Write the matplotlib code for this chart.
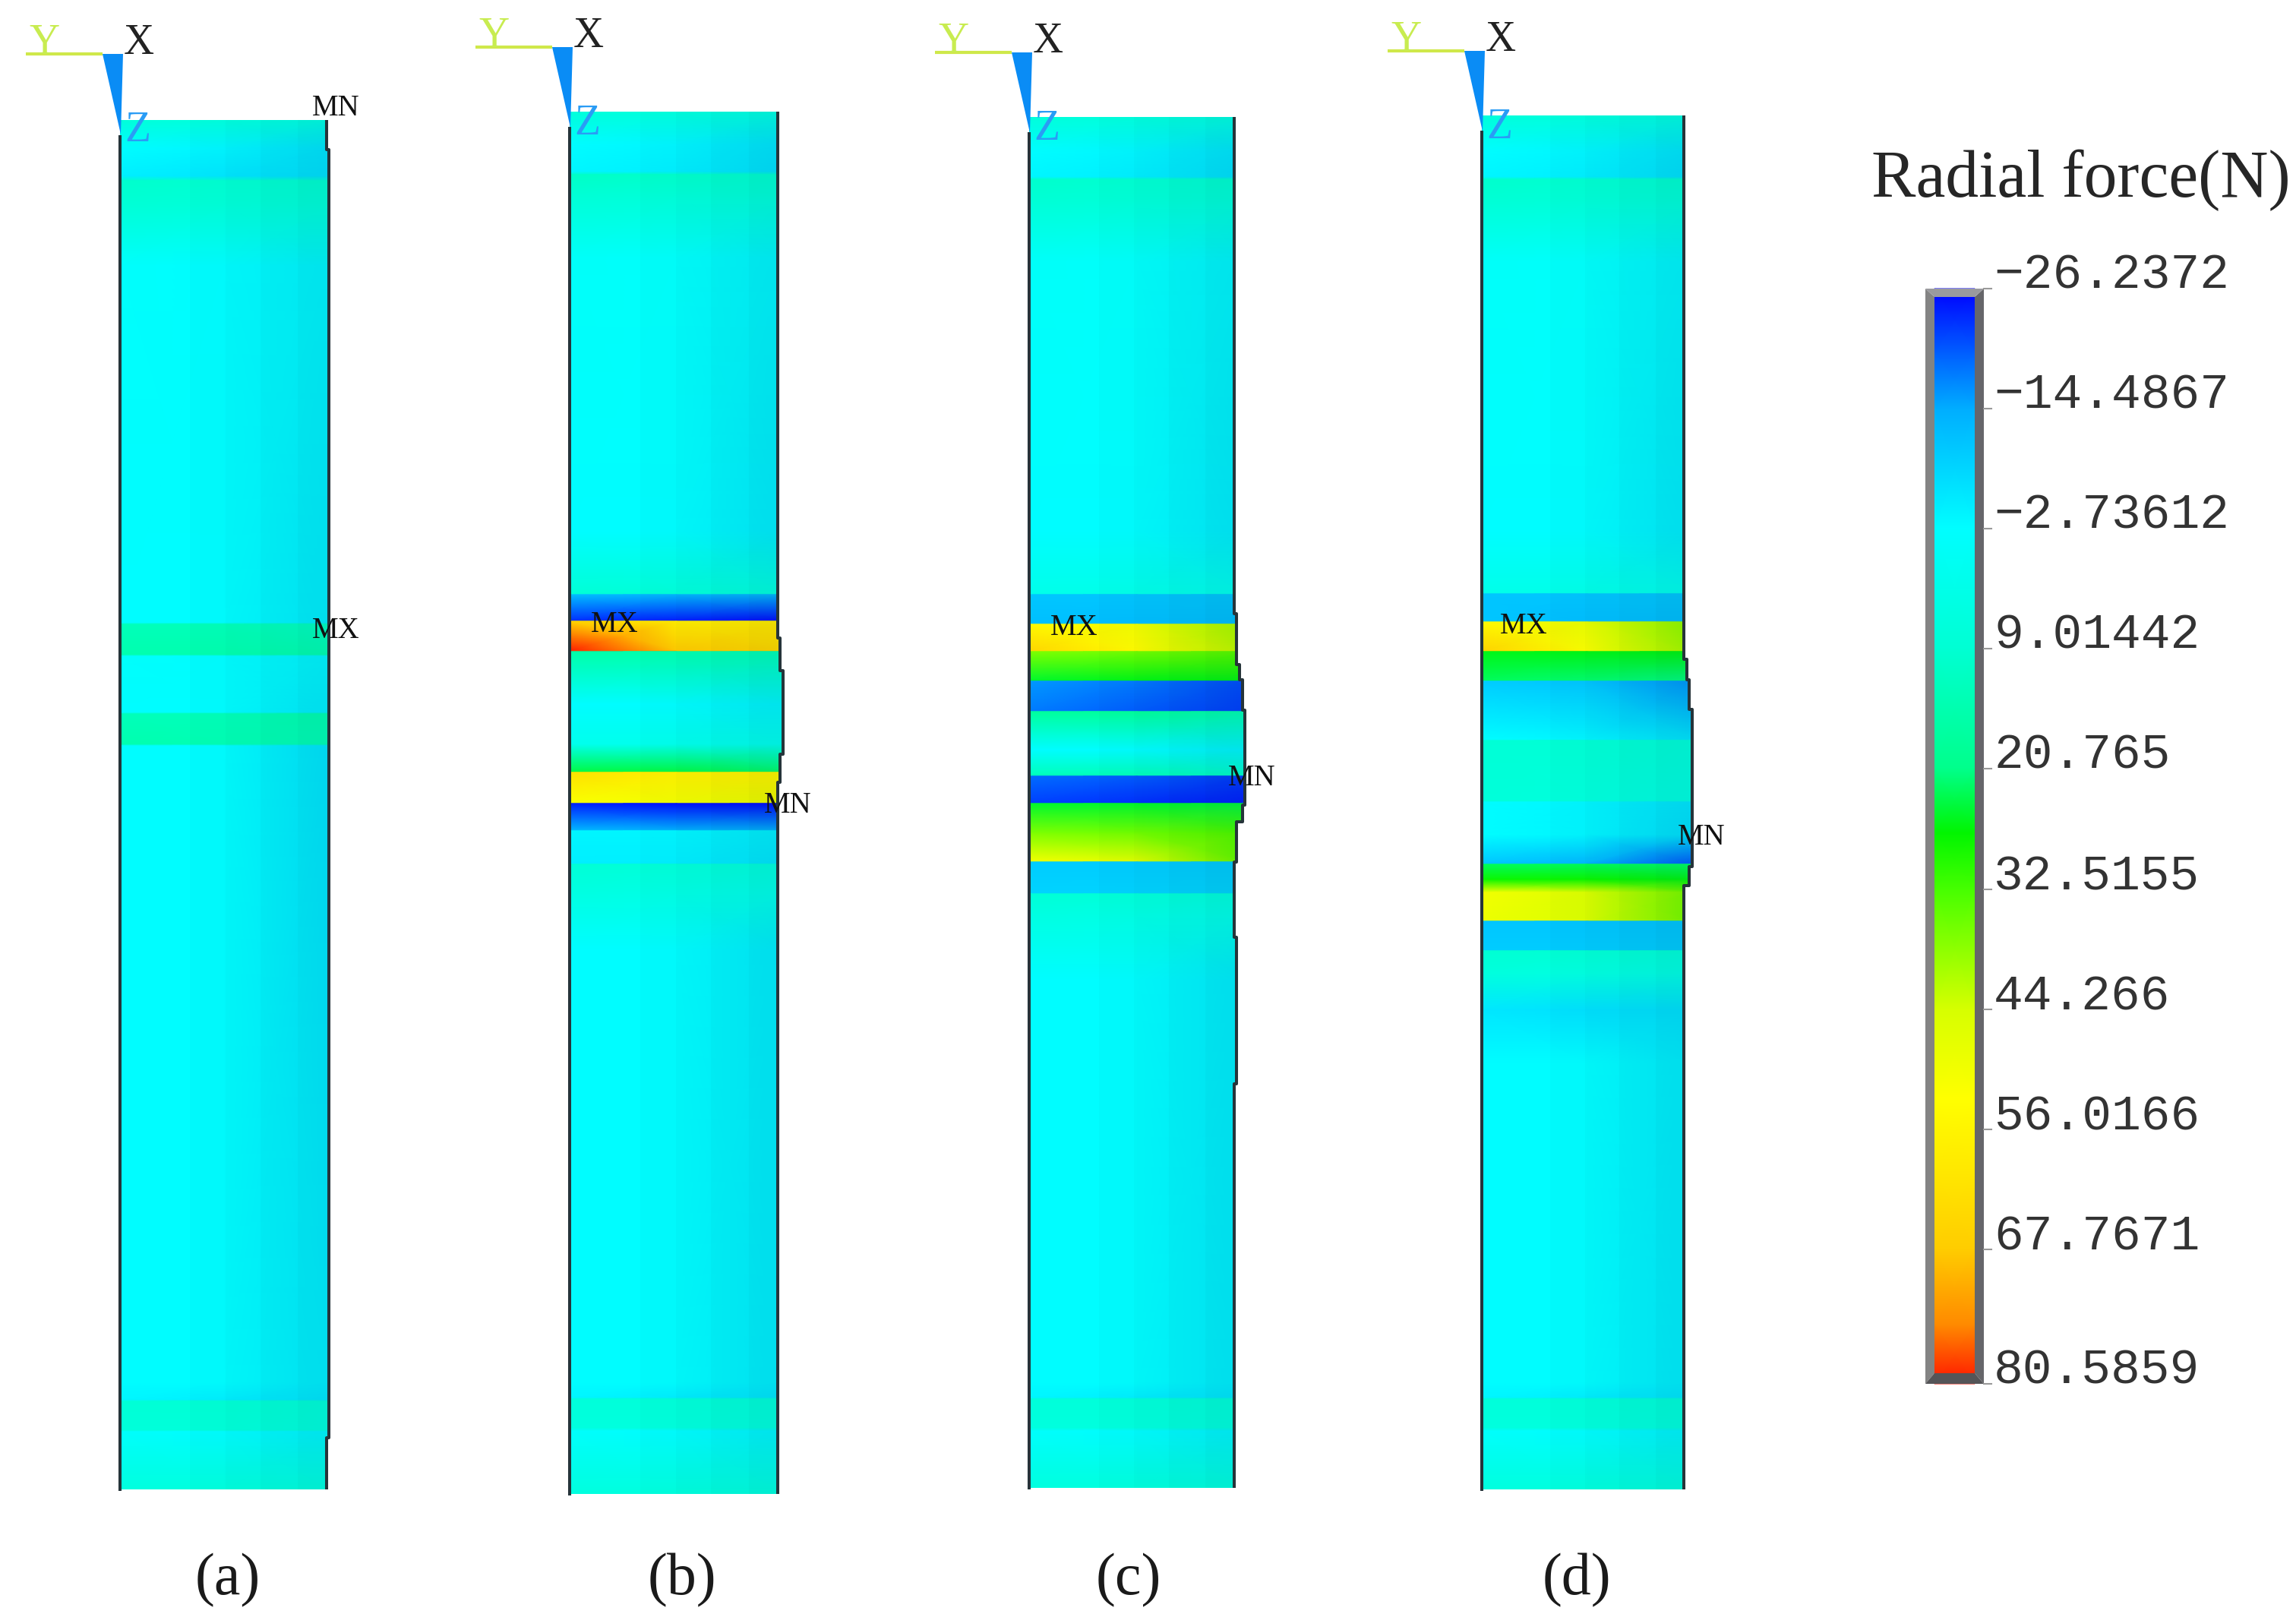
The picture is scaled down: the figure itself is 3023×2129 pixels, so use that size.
import numpy as np
import matplotlib
matplotlib.use('Agg')
import matplotlib.pyplot as plt
from matplotlib.colors import LinearSegmentedColormap, Normalize
from matplotlib.patches import Polygon

# legend
legend_values = [-26.2372, -14.4867, -2.73612, 9.01442, 20.765, 32.5155, 44.266, 56.0166, 67.7671, 80.5859]
legend_labels = ['\u221226.2372', '\u221214.4867', '\u22122.73612', '9.01442', '20.765', '32.5155', '44.266', '56.0166', '67.7671', '80.5859']
legend_y = [380, 538, 696, 854, 1012, 1171, 1329, 1487, 1645, 1822]

# colour stops of the contour scale
stop_values = [-26.2372, -20.0, -14.4867, -2.73612, 9.01442, 20.765, 27.0, 32.5155, 44.266, 53.0, 60.0, 67.7671, 75.0, 80.5859]
stop_colors = ['#0000ff', '#0060ff', '#00aeff', '#00ffff', '#00ffd2', '#00ff8c', '#00f500', '#46ff00',
               '#d7ff00', '#ffff00', '#ffe800', '#ffcd00', '#ff8c00', '#ff1400']

# panel (a)
a_z     = [158, 195, 232, 238, 270, 350, 820, 822, 862, 864, 938, 940, 980, 982, 1820, 1843, 1845, 1883, 1885, 1961]
a_left  = [7, -3, -5, 10, 8, -2, -3, 13, 15, -2, -3, 13, 15, -3, -3, -4, 8, 7, -2, 6]
a_mid   = [6, -4, -6, 9, 7, -3, -3, 13, 15, -3, -3, 13, 14, -3, -3, -5, 8, 7, -3, 6]
a_right = [4, -6, -7, 8, 6, -4, -5, 11, 14, -4, -5, 14, 13, -6, -5, -6, 6, 5, -4, 5]
a_edge_z = [158, 197, 1893, 1961]
a_edge_x = [430, 433, 430, 430]

# panel (b)
b_z     = [147, 190, 226, 230, 258, 340, 700, 782, 783, 817, 818, 857, 858, 927, 980, 1016, 1017, 1057, 1058, 1093, 1094, 1137, 1138, 1176, 1250, 1820, 1840, 1842, 1880, 1884, 1967]
b_left  = [7, -3, -4, 11, 8, -1, -3, 8, -12, -23, 66, 80, 16, -3, 2, 24, 62, 52, -24, -13, -4, -5, 8, 5, -3, -3, -4, 7, 6, -2, 6]
b_mid   = [6, -4, -5, 10, 7, -2, -3, 7, -13, -24, 58, 68, 15, -3, 2, 24, 57, 50, -25, -14, -4, -5, 7, 4, -3, -3, -5, 7, 6, -3, 6]
b_right = [4, -6, -7, 8, 6, -4, -5, 5, -13, -25, 58, 64, 13, -4, 1, 22, 55, 49, -25, -14, -5, -6, 5, 2, -5, -5, -6, 6, 5, -4, 5]
b_edge_z = [147, 840, 883, 993, 1030, 1967]
b_edge_x = [1024, 1027, 1031, 1027, 1024, 1024]

# panel (c)
c_z     = [154, 200, 233, 236, 265, 345, 700, 782, 783, 821, 822, 857, 858, 896, 897, 936, 937, 987, 1021, 1022, 1057, 1058, 1097, 1134, 1135, 1176, 1177, 1205, 1290, 1820, 1840, 1842, 1880, 1884, 1959]
c_left  = [7, -3, -4, 10, 8, -1, -3, 3, -11, -12, 55, 65, 37, 25, -16, -18, 18, -3, 13, -19, -22, 25, 37, 50, -10, -9, 8, 5, -3, -3, -4, 7, 6, -2, 6]
c_mid   = [6, -4, -5, 9, 7, -2, -3, 3, -11, -12, 50, 54, 36, 26, -18, -20, 18, -3, 13, -20, -23, 25, 36, 46, -10, -9, 7, 4, -3, -3, -5, 7, 6, -3, 6]
c_right = [4, -6, -7, 8, 6, -4, -5, 1, -11, -12, 40, 42, 34, 26, -21, -22, 14, -4, 10, -22, -24, 24, 33, 35, -10, -9, 5, 2, -5, -5, -6, 6, 5, -4, 5]
c_edge_z = [154, 665, 808, 875, 895, 935, 1060, 1082, 1135, 1234, 1427, 1959]
c_edge_x = [1625, 1625, 1628, 1632, 1636, 1639, 1636, 1628, 1625, 1628, 1625, 1625]

# panel (d)
d_z     = [152, 200, 233, 236, 265, 345, 700, 781, 782, 818, 819, 857, 858, 896, 897, 974, 975, 1055, 1056, 1099, 1137, 1138, 1158, 1175, 1212, 1213, 1251, 1252, 1282, 1330, 1400, 1820, 1840, 1842, 1880, 1884, 1961]
d_left  = [7, -3, -4, 10, 8, -1, -3, 3, -11, -11, 55, 66, 26, 23, -10, -3, 8, 7, -3, -3, -11, 23, 28, 50, 49, -11, -10, 9, 6, -6, -3, -3, -4, 7, 6, -2, 6]
d_mid   = [6, -4, -5, 9, 7, -2, -3, 3, -11, -12, 48, 52, 26, 22, -11, -4, 8, 6, -4, -4, -13, 23, 28, 45, 45, -11, -10, 8, 5, -7, -3, -3, -5, 7, 6, -3, 6]
d_right = [4, -6, -7, 8, 6, -4, -5, 1, -11, -12, 38, 40, 26, 21, -16, -6, 6, 4, -6, -7, -20, 22, 26, 36, 36, -11, -10, 6, 3, -7, -5, -5, -6, 6, 5, -4, 5]
d_edge_z = [152, 868, 895, 934, 1141, 1166, 1961]
d_edge_x = [2217, 2221, 2224, 2228, 2224, 2217, 2217]

# element columns across the width, each a little darker in the render
facet_edges = [0, 0.34, 0.51, 0.68, 0.86, 1.0]
facet_shade = [0.0, 0.015, 0.03, 0.05, 0.07]

panel_left = [158, 750, 1355, 1951]
panel_line_y = [71, 62, 69, 67]
caption_x = [300, 898, 1486, 2076]
captions = ['(a)', '(b)', '(c)', '(d)']
mn_pos = [(442, 143), (1037, 1060), (1648, 1024), (2240, 1102)]
mx_pos = [(442, 831), (809, 823), (1414, 826), (2006, 825)]

panels = [
    (a_z, a_left, a_mid, a_right, a_edge_z, a_edge_x),
    (b_z, b_left, b_mid, b_right, b_edge_z, b_edge_x),
    (c_z, c_left, c_mid, c_right, c_edge_z, c_edge_x),
    (d_z, d_left, d_mid, d_right, d_edge_z, d_edge_x),
]

SERIF = 'Liberation Serif'
MONO = 'Liberation Mono'
EDGE = '#26343a'


def mark(ax, pos, text):
    ax.text(pos[0], pos[1], text, fontsize=28, family=SERIF, color='#111111', ha='center', va='center', zorder=6)


def triad(ax, x, y):
    ax.plot([x - 124, x - 23], [y, y], color='#cfe84a', lw=3, solid_capstyle='butt', zorder=4)
    ax.add_patch(Polygon([(x - 23, y), (x + 4, y), (x + 1, y + 106)], closed=True, fc='#0a8cf5', ec='none', zorder=4))
    ax.text(x - 100, y - 14, 'Y', fontsize=40, family=SERIF, color='#c8ec50', ha='center', va='center', zorder=6)
    ax.text(x + 25, y - 14, 'X', fontsize=40, family=SERIF, color='#222222', ha='center', va='center', zorder=6)
    ax.text(x + 23, y + 101, 'Z', fontsize=40, family=SERIF, color='#2a9cf5', ha='center', va='center', zorder=6)


def draw_panel(ax, left, data, cmap, norm):
    z, v_left, v_mid, v_right, edge_z, edge_x = data
    right = max(edge_x)
    z = np.array(z, dtype=float)
    X = np.column_stack([np.full(len(z), left), np.full(len(z), (left + right) / 2), np.full(len(z), right)])
    Y = np.column_stack([z, z, z])
    C = np.column_stack([v_left, v_mid, v_right])
    mesh = ax.pcolormesh(X, Y, C, shading='gouraud', cmap=cmap, norm=norm, zorder=2)

    # stepped outer edge of the deformed model
    step_x = np.repeat(edge_x[:-1], 2)
    step_z = np.column_stack([edge_z[:-1], edge_z[1:]]).ravel()
    outline = list(zip(step_x, step_z)) + [(left, edge_z[-1]), (left, edge_z[0])]
    clip = Polygon(outline, closed=True, transform=ax.transData)
    mesh.set_clip_path(clip)

    # shading of the element columns
    width = edge_x[0] - left
    for i, shade in enumerate(facet_shade):
        if shade == 0:
            continue
        x0 = left + facet_edges[i] * width
        x1 = left + facet_edges[i + 1] * width
        if i == len(facet_shade) - 1:
            x1 = right
        rect = ax.fill_between([x0, x1], z[0], z[-1], color='black', alpha=shade, lw=0, zorder=2.5)
        rect.set_clip_path(Polygon(outline, closed=True, transform=ax.transData))

    ax.plot([left, left], [z[0] + 20, z[-1] + 2], color=EDGE, lw=2.9, solid_capstyle='butt', zorder=3)
    ax.plot(step_x, step_z, color=EDGE, lw=2.9, solid_capstyle='butt', zorder=3)


def draw_legend(ax, cmap, norm):
    x0, x1 = 2547, 2600
    y_nodes = np.interp(stop_values, legend_values, legend_y)
    X = np.column_stack([np.full(len(y_nodes), x0), np.full(len(y_nodes), x1)])
    Y = np.column_stack([y_nodes, y_nodes])
    C = np.column_stack([stop_values, stop_values])
    ax.pcolormesh(X, Y, C, shading='gouraud', cmap=cmap, norm=norm, zorder=2)

    # bevelled grey frame
    ox0, ox1, oy0, oy1 = 2535, 2612, 380, 1822
    iy0, iy1 = 391, 1808
    ax.add_patch(Polygon([(ox0, oy0), (x0, iy0), (x0, iy1), (ox0, oy1)], fc='#848484', ec='none', zorder=3))
    ax.add_patch(Polygon([(ox1, oy0), (x1, iy0), (x1, iy1), (ox1, oy1)], fc='#66666a', ec='none', zorder=3))
    ax.add_patch(Polygon([(ox0, oy0), (ox1, oy0), (x1, iy0), (x0, iy0)], fc='#9a9a9e', ec='none', zorder=3))
    ax.add_patch(Polygon([(ox0, oy1), (ox1, oy1), (x1, iy1), (x0, iy1)], fc='#555558', ec='none', zorder=3))

    for y, label in zip(legend_y, legend_labels):
        ax.plot([ox1, ox1 + 10], [y, y], color='#999999', lw=1.5, zorder=3)
        ax.text(2625, y, label, fontsize=46.5, family=MONO, color='#333333', ha='left', va='baseline', zorder=6)


def main():
    fig = plt.figure(figsize=(30.23, 21.29), dpi=100)
    ax = fig.add_axes([0, 0, 1, 1])
    ax.set_xlim(0, 3023)
    ax.set_ylim(2129, 0)
    ax.axis('off')

    lo, hi = stop_values[0], stop_values[-1]
    positions = [(v - lo) / (hi - lo) for v in stop_values]
    cmap = LinearSegmentedColormap.from_list('ansys', list(zip(positions, stop_colors)), N=512)
    norm = Normalize(lo, hi)

    for i, data in enumerate(panels):
        draw_panel(ax, panel_left[i], data, cmap, norm)
        triad(ax, panel_left[i], panel_line_y[i])
        mark(ax, mn_pos[i], 'MN')
        mark(ax, mx_pos[i], 'MX')
        ax.text(caption_x[i], 2081, captions[i], fontsize=56, family=SERIF, color='#1a1a1a', ha='center', va='center')

    draw_legend(ax, cmap, norm)
    ax.text(2740, 237, 'Radial force(N)', fontsize=63, family=SERIF, color='#262626', ha='center', va='center')

    fig.savefig('out.png', dpi=100, facecolor='white')


if __name__ == "__main__":
    main()
